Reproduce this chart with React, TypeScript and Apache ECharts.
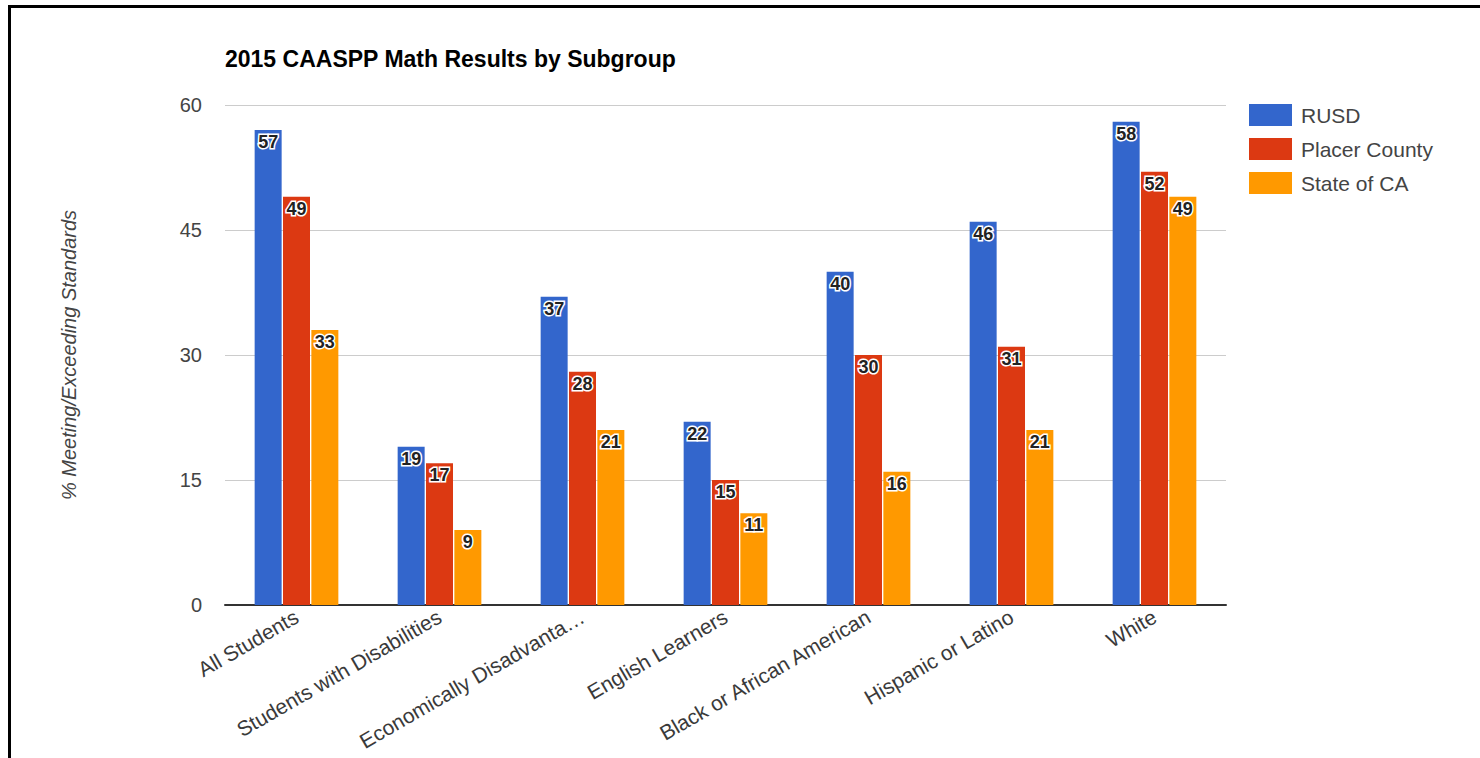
import React, { useEffect, useRef } from "react";
import * as echarts from "echarts";

const categories = [
  "All Students",
  "Students with Disabilities",
  "Economically Disadvanta…",
  "English Learners",
  "Black or African American",
  "Hispanic or Latino",
  "White",
];
const seriesNames = ["RUSD", "Placer County", "State of CA"];
const rusd = [57, 19, 37, 22, 40, 46, 58];
const placer = [49, 17, 28, 15, 30, 31, 52];
const stateCA = [33, 9, 21, 11, 16, 21, 49];
const colors = ["#3366cc", "#dc3912", "#ff9900"];
const yTicks = [0, 15, 30, 45, 60];

const FONT = "'Liberation Sans', Arial, sans-serif";

export default function App() {
  const ref = useRef<HTMLDivElement>(null);
  useEffect(() => {
    if (!ref.current) return;
    const chart = echarts.init(ref.current, null, { renderer: "svg" });
    const values = [rusd, placer, stateCA];
    chart.setOption({
      animation: false,
      textStyle: { fontFamily: FONT },
      title: {
        text: "2015 CAASPP Math Results by Subgroup",
        left: 220,
        top: 42,
        textStyle: { fontSize: 23, fontWeight: "bold", color: "#000", fontFamily: FONT },
      },
      legend: {
        orient: "vertical",
        left: 1249,
        top: 104,
        padding: 0,
        itemWidth: 43,
        itemHeight: 22,
        itemGap: 12,
        icon: "rect",
        textStyle: { fontSize: 21, color: "#444", fontFamily: FONT, padding: [0, 0, 0, 4] },
        data: seriesNames,
      },
      grid: { left: 225, top: 105, width: 1001, height: 500, containLabel: false },
      xAxis: {
        type: "category",
        data: categories,
        axisTick: { show: false },
        axisLine: { lineStyle: { color: "#333", width: 2 } },
        axisLabel: {
          rotate: 30,
          fontSize: 21,
          color: "#3a3a3a",
          margin: 10,
          interval: 0,
          fontFamily: FONT,
        },
      },
      yAxis: {
        type: "value",
        min: yTicks[0],
        max: yTicks[yTicks.length - 1],
        interval: 15,
        name: "% Meeting/Exceeding Standards",
        nameLocation: "middle",
        nameGap: 146,
        nameTextStyle: { fontSize: 20, fontStyle: "italic", color: "#444", fontFamily: FONT },
        axisLine: { show: false },
        axisTick: { show: false },
        axisLabel: { fontSize: 20, color: "#444", margin: 23, fontFamily: FONT },
        splitLine: { lineStyle: { color: "#cccccc", width: 1 } },
      },
      series: seriesNames.map((name, i) => ({
        name,
        type: "bar",
        data: values[i],
        barWidth: 27,
        barGap: "5%",
        itemStyle: { color: colors[i] },
        label: {
          show: true,
          position: "insideTop",
          distance: 3,
          fontSize: 18,
          fontWeight: "bold",
          color: "#222",
          textBorderColor: "#fff",
          textBorderWidth: 3,
          fontFamily: FONT,
        },
      })),
    });
    return () => chart.dispose();
  }, []);
  return (
    <>
      <div
        style={{
          position: "absolute",
          left: 0,
          top: 0,
          width: 1480,
          height: 758,
          background: "#fff",
        }}
      >
        <div ref={ref} style={{ position: "absolute", left: 0, top: 0, width: 1480, height: 758 }} />
        <div
          style={{
            position: "absolute",
            left: 8,
            top: 5,
            width: 1472,
            height: 753,
            boxSizing: "border-box",
            borderTop: "3px solid #000",
            borderLeft: "3px solid #000",
            pointerEvents: "none",
          }}
        />
      </div>
    </>
  );
}
